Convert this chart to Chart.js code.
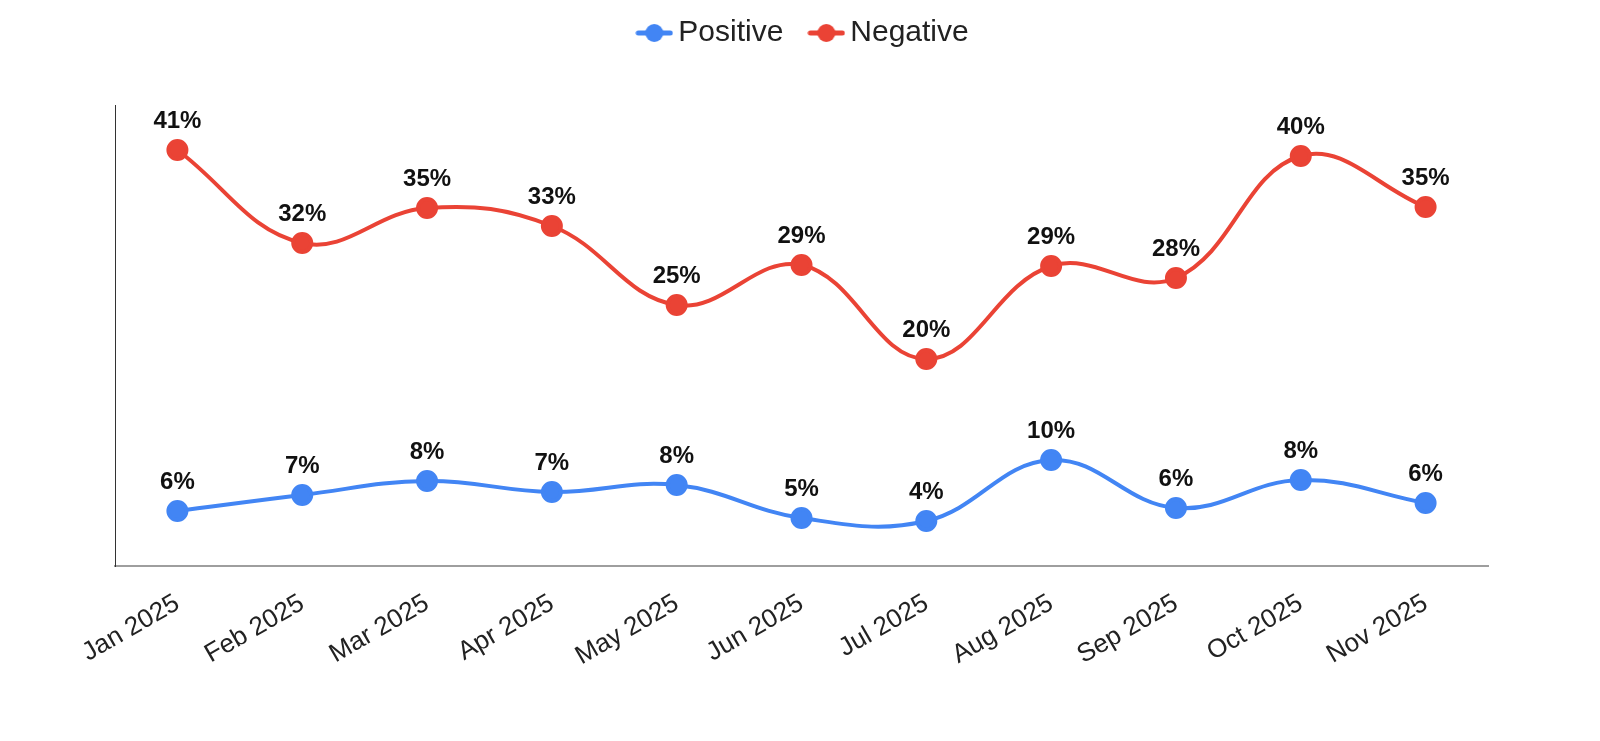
<!DOCTYPE html>
<html>
<head>
<meta charset="utf-8">
<script src="https://cdn.jsdelivr.net/npm/chart.js@4"></script>
<style>
  html, body { margin: 0; padding: 0; background: #fff; }
  #wrap { width: 1600px; height: 741px; }
</style>
</head>
<body>
<div id="wrap"><canvas id="trend"></canvas></div>
<script>
var months = ['Jan 2025', 'Feb 2025', 'Mar 2025', 'Apr 2025', 'May 2025', 'Jun 2025',
  'Jul 2025', 'Aug 2025', 'Sep 2025', 'Oct 2025', 'Nov 2025'];

var positive = [4.9, 6.5, 7.9, 6.8, 7.5, 4.2, 3.9, 10.0, 5.2, 8.0, 5.7];
var negative = [41.0, 31.7, 35.2, 33.4, 25.5, 29.5, 20.1, 29.4, 28.2, 40.4, 35.3];

// the labels printed above each point
var positiveText = ['6%', '7%', '8%', '7%', '8%', '5%', '4%', '10%', '6%', '8%', '6%'];
var negativeText = ['41%', '32%', '35%', '33%', '25%', '29%', '20%', '29%', '28%', '40%', '35%'];

var FONT = '"Liberation Sans", Arial, sans-serif';
var BLUE = '#4285f4';
var RED = '#ea4335';

// line + dot marker for the legend
function legendMarker(color) {
  var c = document.createElement('canvas');
  c.width = 38;
  c.height = 20;
  var g = c.getContext('2d');
  g.strokeStyle = color;
  g.lineWidth = 5;
  g.lineCap = 'round';
  g.beginPath();
  g.moveTo(3, 10);
  g.lineTo(35, 10);
  g.stroke();
  g.fillStyle = color;
  g.beginPath();
  g.arc(19, 10, 9, 0, Math.PI * 2);
  g.fill();
  return c;
}
var markers = [legendMarker(BLUE), legendMarker(RED)];

var valueLabels = {
  id: 'valueLabels',
  afterDatasetsDraw: function(chart) {
    var ctx = chart.ctx;
    ctx.save();
    ctx.font = 'bold 24px ' + FONT;
    ctx.fillStyle = '#111';
    ctx.textAlign = 'center';
    ctx.textBaseline = 'middle';
    chart.data.datasets.forEach(function(ds, i) {
      chart.getDatasetMeta(i).data.forEach(function(pt, j) {
        ctx.fillText(ds.valueText[j], pt.x, pt.y - 29);
      });
    });
    ctx.restore();
  }
};

// push the plot down below the legend, nudge legend a bit right
var legendSpace = {
  id: 'legendSpace',
  beforeInit: function(chart) {
    var fit = chart.legend.fit;
    chart.legend.fit = function() {
      fit.call(this);
      this.height = 121;
    };
  },
  afterLayout: function(chart) {
    chart.legend.left += 7;
    chart.legend.right += 7;
  }
};

var ctx = document.getElementById('trend').getContext('2d');
var chart = new Chart(ctx, {
  type: 'line',
  data: {
    labels: months,
    datasets: [{
      label: 'Positive',
      data: positive,
      valueText: positiveText,
      borderColor: BLUE,
      backgroundColor: BLUE,
      borderWidth: 4,
      pointRadius: 9,
      pointHoverRadius: 9,
      tension: 0.4
    }, {
      label: 'Negative',
      data: negative,
      valueText: negativeText,
      borderColor: RED,
      backgroundColor: RED,
      borderWidth: 4,
      pointRadius: 9,
      pointHoverRadius: 9,
      tension: 0.4
    }]
  },
  options: {
    responsive: true,
    maintainAspectRatio: false,
    animation: false,
    layout: {
      padding: { top: -16, left: 112, right: 112, bottom: 0 }
    },
    plugins: {
      legend: {
        position: 'top',
        labels: {
          usePointStyle: true,
          pointStyleWidth: 18,
          boxHeight: 20,
          padding: 34,
          color: '#222',
          font: { family: FONT, size: 30 },
          generateLabels: function(chart) {
            var items = Chart.defaults.plugins.legend.labels.generateLabels(chart);
            items.forEach(function(item, i) {
              item.pointStyle = markers[i];
            });
            return items;
          }
        }
      },
      tooltip: { enabled: false }
    },
    scales: {
      x: {
        offset: true,
        grid: { display: false },
        border: { display: true, color: '#9e9e9e', width: 2 },
        ticks: {
          color: '#222',
          font: { family: FONT, size: 26 },
          minRotation: 30,
          maxRotation: 30,
          padding: 14
        },
        afterFit: function(scale) {
          scale.height = 175;
        }
      },
      y: {
        min: -0.6,
        max: 45.5,
        grid: { display: false },
        border: { display: true, color: '#333', width: 1 },
        ticks: { display: false },
        afterFit: function(scale) {
          scale.width = 3;
        }
      }
    }
  },
  plugins: [valueLabels, legendSpace]
});
</script>
</body>
</html>
